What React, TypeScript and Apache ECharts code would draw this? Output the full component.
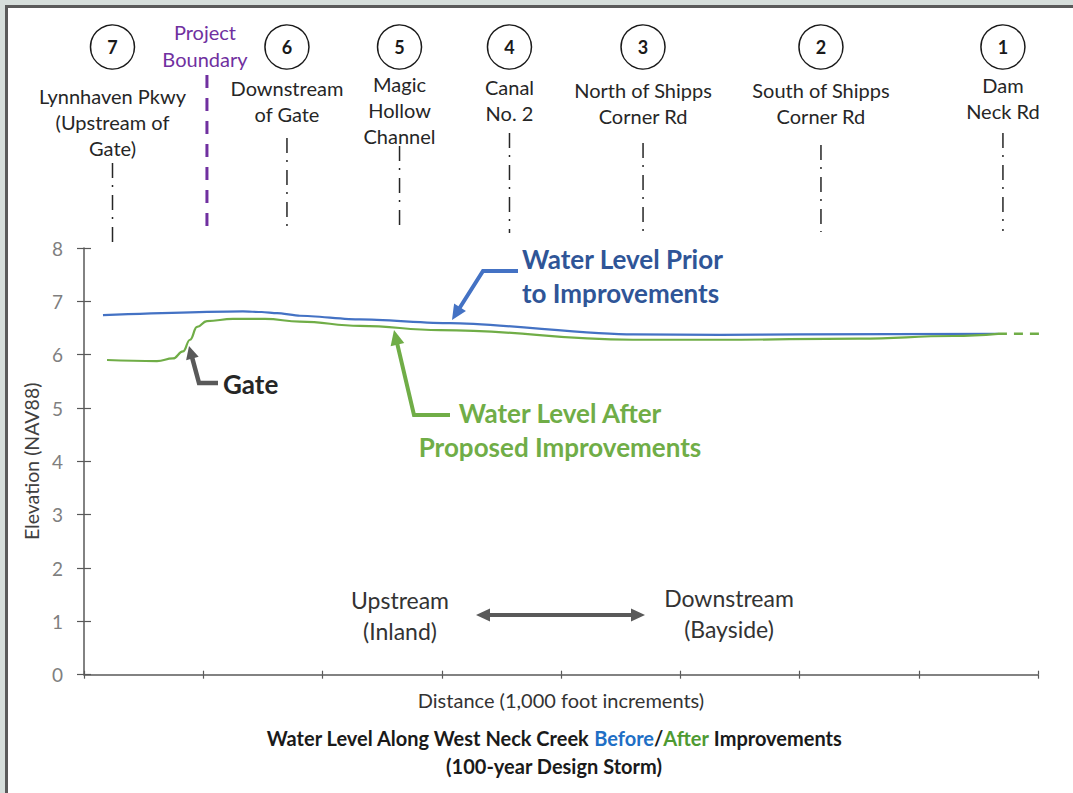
import React, { useEffect, useRef } from "react";
import * as echarts from "echarts";

// ---- Data ----
const beforeX = [0.159, 1.333, 1.49, 1.618, 1.811, 2.314, 3.069, 4.604, 5.333, 6.0, 7.664];
const beforeY = [6.74, 6.81, 6.8, 6.78, 6.73, 6.66, 6.59, 6.38, 6.37, 6.38, 6.39];
const afterX = [0.193, 0.612, 0.746, 0.83, 0.889, 0.948, 1.031, 1.249, 1.518, 1.811, 2.314, 2.985, 4.604, 5.333, 6.5, 7.29, 7.664];
const afterY = [5.9, 5.88, 5.93, 6.06, 6.28, 6.52, 6.63, 6.67, 6.67, 6.62, 6.54, 6.46, 6.28, 6.28, 6.3, 6.35, 6.39];
const afterExtX = [7.664, 8.3];
const afterExtY = [6.39, 6.39];

const yTicks = [0, 1, 2, 3, 4, 5, 6, 7, 8];
const xTickCount = 8;

const stationNumbers = ["7", "6", "5", "4", "3", "2", "1"];
const stationNames = [
  "Lynnhaven Pkwy\n(Upstream of\nGate)",
  "Downstream\nof Gate",
  "Magic\nHollow\nChannel",
  "Canal\nNo. 2",
  "North of Shipps\nCorner Rd",
  "South of Shipps\nCorner Rd",
  "Dam\nNeck Rd",
];
const stationX = [0.239, 1.702, 2.646, 3.568, 4.688, 6.18, 7.706];
const projectBoundaryX = 1.031;

// layout-only values for annotations (pixel)
const nameTop = [83, 75, 71, 74, 77, 77, 72];
const dashTop = [163, 138, 146, 133, 143, 145, 133];
const dashBottom = [248, 228, 232, 233, 232, 232, 231];

const FONT = "Lato, 'Open Sans', sans-serif";
const BLUE = "#4472c4";
const GREEN = "#70ad47";
const GRAY = "#595959";

function arrow(
  pts: number[][],
  color: string,
  lw: number,
  headLen: number,
  headW: number,
  both = false
): any[] {
  const out: any[] = [];
  const p = pts.map((q) => q.slice());
  const heads: number[][][] = [];
  const mk = (tip: number[], prev: number[]) => {
    const dx = tip[0] - prev[0];
    const dy = tip[1] - prev[1];
    const L = Math.hypot(dx, dy);
    const ux = dx / L, uy = dy / L;
    const bx = tip[0] - ux * headLen, by = tip[1] - uy * headLen;
    const px = -uy * headW / 2, py = ux * headW / 2;
    heads.push([tip, [bx + px, by + py], [bx - px, by - py]]);
    return [tip[0] - ux * (headLen - 2), tip[1] - uy * (headLen - 2)];
  };
  const n = p.length;
  const newEnd = mk(pts[n - 1], pts[n - 2]);
  p[n - 1] = newEnd;
  if (both) {
    const newStart = mk(pts[0], pts[1]);
    p[0] = newStart;
  }
  out.push({
    type: "polyline",
    shape: { points: p },
    style: { stroke: color, lineWidth: lw, fill: null, lineJoin: "miter" },
    z: 50,
  });
  heads.forEach((h) =>
    out.push({ type: "polygon", shape: { points: h }, style: { fill: color }, z: 51 })
  );
  return out;
}

export default function App() {
  const ref = useRef<HTMLDivElement>(null);

  useEffect(() => {
    if (!ref.current) return;
    const chart = echarts.init(ref.current, null, { renderer: "svg" });

    const grid = { left: 84, top: 248, width: 954, height: 426.7 };
    const axisLine = { show: true, lineStyle: { color: GRAY, width: 1.5 } };

    const option: any = {
      animation: false,
      backgroundColor: "#d6dedb",
      grid,
      xAxis: [
        {
          type: "value",
          min: 0,
          max: xTickCount,
          interval: 1,
          axisLine,
          axisTick: { show: true, length: 4, lineStyle: { color: GRAY, width: 1.2 } },
          axisLabel: { show: false },
          splitLine: { show: false },
          name: "Distance (1,000 foot increments)",
          nameLocation: "middle",
          nameGap: 15,
          nameTextStyle: { fontFamily: FONT, fontSize: 20, color: "#333333" },
        },
        {
          type: "value",
          min: 0,
          max: xTickCount,
          interval: 1,
          position: "bottom",
          axisLine: { show: false },
          axisTick: { show: true, inside: true, length: 4, lineStyle: { color: GRAY, width: 1.2 } },
          axisLabel: { show: false },
          splitLine: { show: false },
        },
      ],
      yAxis: [
        {
          type: "value",
          min: yTicks[0],
          max: yTicks[yTicks.length - 1],
          interval: 1,
          axisLine,
          axisTick: { show: true, length: 7, lineStyle: { color: GRAY, width: 1.2 } },
          axisLabel: { fontFamily: FONT, fontSize: 19, color: "#7f7f7f", margin: 21 },
          splitLine: { show: false },
          name: "Elevation (NAV88)",
          nameLocation: "middle",
          nameGap: 40,
          nameRotate: 90,
          nameTextStyle: { fontFamily: FONT, fontSize: 19.5, color: "#404040" },
        },
        {
          type: "value",
          min: yTicks[0],
          max: yTicks[yTicks.length - 1],
          interval: 1,
          position: "left",
          axisLine: { show: false },
          axisTick: { show: true, inside: true, length: 7, lineStyle: { color: GRAY, width: 1.2 } },
          axisLabel: { show: false },
          splitLine: { show: false },
        },
      ],
      series: [
        {
          type: "line",
          name: "Before",
          data: beforeX.map((x, i) => [x, beforeY[i]]),
          showSymbol: false,
          smooth: 0.25,
          smoothMonotone: "x",
          lineStyle: { color: BLUE, width: 2.2 },
          z: 5,
        },
        {
          type: "line",
          name: "After",
          data: afterX.map((x, i) => [x, afterY[i]]),
          showSymbol: false,
          smooth: 0.45,
          smoothMonotone: "x",
          lineStyle: { color: GREEN, width: 2.2 },
          z: 6,
        },
        {
          type: "line",
          name: "After (extension)",
          data: afterExtX.map((x, i) => [x, afterExtY[i]]),
          showSymbol: false,
          clip: false,
          lineStyle: { color: GREEN, width: 2.5, type: [9, 7] },
          z: 6,
        },
      ],
    };
    chart.setOption(option);

    const toPx = (x: number) => chart.convertToPixel({ xAxisIndex: 0 }, x) as number;

    const g: any[] = [];
    // frame
    g.push({
      type: "rect",
      shape: { x: 6.5, y: 6.5, width: 1200, height: 1000 },
      style: { fill: "#ffffff", stroke: "#5a5a5a", lineWidth: 3 },
      z: -10,
      silent: true,
    });

    // stations
    stationX.forEach((sx, i) => {
      const cx = toPx(sx);
      g.push({
        type: "circle",
        shape: { cx, cy: 47, r: 22 },
        style: { fill: "#ffffff", stroke: "#1a1a1a", lineWidth: 1.5 },
        z: 20,
      });
      g.push({
        type: "text",
        x: cx,
        y: 47,
        style: {
          text: stationNumbers[i],
          fontFamily: FONT,
          fontSize: 18,
          fontWeight: "bold",
          fill: "#1a1a1a",
          align: "center",
          verticalAlign: "middle",
        },
        z: 21,
      });
      g.push({
        type: "text",
        x: cx,
        y: nameTop[i],
        style: {
          text: stationNames[i],
          fontFamily: FONT,
          fontSize: 20,
          lineHeight: 26,
          fill: "#262626",
          align: "center",
          verticalAlign: "top",
        },
        z: 21,
      });
      g.push({
        type: "line",
        shape: { x1: cx, y1: dashTop[i], x2: cx, y2: dashBottom[i] },
        style: { stroke: "#262626", lineWidth: 1.5, lineDash: [15, 7, 2, 8] },
        z: 20,
      });
    });

    // project boundary
    const pbx = toPx(projectBoundaryX);
    g.push({
      type: "line",
      shape: { x1: pbx, y1: 75, x2: pbx, y2: 236 },
      style: { stroke: "#7030a0", lineWidth: 3, lineDash: [13, 10] },
      z: 20,
    });
    g.push({
      type: "text",
      x: pbx - 2,
      y: 18,
      style: {
        text: "Project\nBoundary",
        fontFamily: FONT,
        fontSize: 20,
        lineHeight: 27,
        fill: "#7030a0",
        align: "center",
        verticalAlign: "top",
      },
      z: 21,
    });

    // callouts
    g.push({
      type: "text",
      x: 522,
      y: 242,
      style: {
        text: "Water Level Prior\nto Improvements",
        fontFamily: FONT,
        fontSize: 26,
        fontWeight: "bold",
        lineHeight: 34,
        fill: "#2f5597",
        align: "left",
        verticalAlign: "top",
      },
      z: 30,
    });
    g.push(...arrow([[518, 271], [483, 271], [452, 320]], BLUE, 4, 15, 14));

    g.push({
      type: "text",
      x: 560,
      y: 396,
      style: {
        text: "Water Level After\nProposed Improvements",
        fontFamily: FONT,
        fontSize: 26,
        fontWeight: "bold",
        lineHeight: 34,
        fill: GREEN,
        align: "center",
        verticalAlign: "top",
      },
      z: 30,
    });
    g.push(...arrow([[450, 415], [414, 415], [394, 330]], GREEN, 4, 15, 14));

    g.push({
      type: "text",
      x: 223,
      y: 384,
      style: {
        text: "Gate",
        fontFamily: FONT,
        fontSize: 26,
        fontWeight: "bold",
        fill: "#262626",
        align: "left",
        verticalAlign: "middle",
      },
      z: 30,
    });
    g.push(...arrow([[218, 383], [199, 383], [189, 346]], GRAY, 4.5, 13, 13));

    // upstream / downstream
    g.push({
      type: "text",
      x: 400,
      y: 584,
      style: {
        text: "Upstream\n(Inland)",
        fontFamily: FONT,
        fontSize: 23,
        lineHeight: 31,
        fill: "#333333",
        align: "center",
        verticalAlign: "top",
      },
      z: 30,
    });
    g.push({
      type: "text",
      x: 729,
      y: 582,
      style: {
        text: "Downstream\n(Bayside)",
        fontFamily: FONT,
        fontSize: 23,
        lineHeight: 31,
        fill: "#333333",
        align: "center",
        verticalAlign: "top",
      },
      z: 30,
    });
    g.push(...arrow([[476, 615], [645, 615]], GRAY, 4, 14, 13, true));

    // title
    g.push({
      type: "text",
      x: 554,
      y: 724,
      style: {
        text:
          "{b|Water Level Along West Neck Creek }{bl|Before}{b|/}{gr|After}{b| Improvements}\n{b|(100-year Design Storm)}",
        align: "center",
        verticalAlign: "top",
        rich: {
          b: { fontFamily: FONT, fontSize: 20, fontWeight: "bold", fill: "#1a1a1a", lineHeight: 28 },
          bl: { fontFamily: FONT, fontSize: 20, fontWeight: "bold", fill: "#1f6fc5", lineHeight: 28 },
          gr: { fontFamily: FONT, fontSize: 20, fontWeight: "bold", fill: "#4e9a32", lineHeight: 28 },
        },
      },
      z: 30,
    });

    chart.setOption({ graphic: g });

    return () => chart.dispose();
  }, []);

  return (
    <div
      ref={ref}
      style={{ position: "absolute", left: 0, top: 0, width: 1073, height: 793 }}
    />
  );
}
